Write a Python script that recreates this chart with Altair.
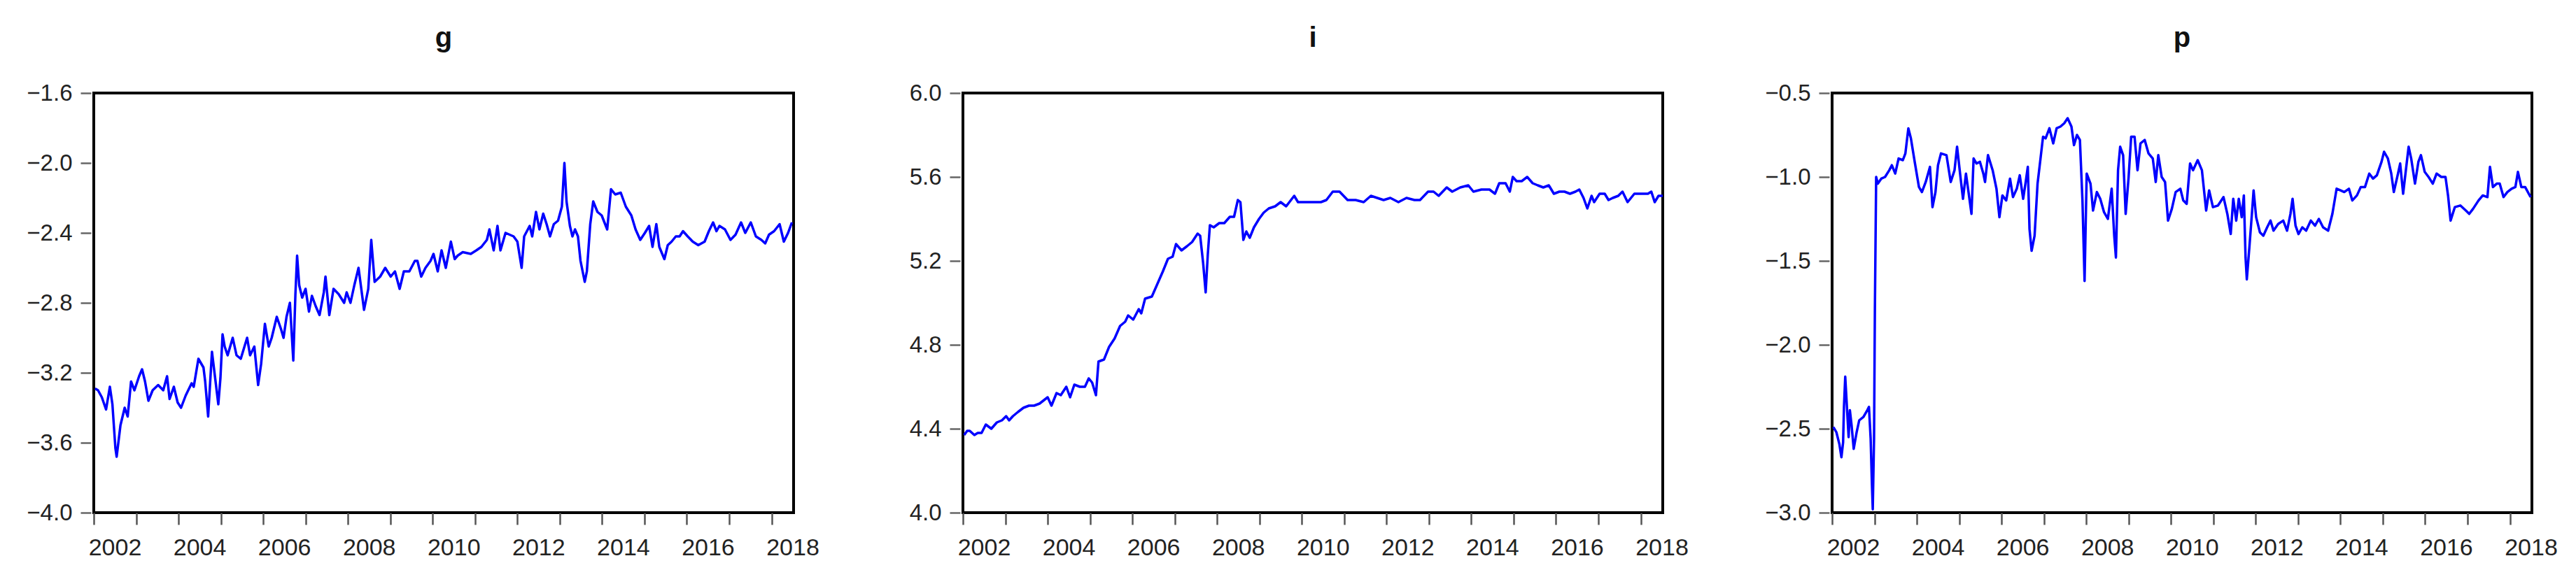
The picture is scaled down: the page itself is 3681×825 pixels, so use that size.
import altair as alt
import pandas as pd

# ---- series g ----
g_year = [2002.03, 2002.10, 2002.19, 2002.29, 2002.38, 2002.44, 2002.51, 2002.54, 2002.63, 2002.73,
          2002.80, 2002.88, 2002.96, 2003.07, 2003.14, 2003.21, 2003.29, 2003.39, 2003.52, 2003.64,
          2003.73, 2003.79, 2003.89, 2003.98, 2004.06, 2004.17, 2004.31, 2004.36, 2004.47, 2004.59,
          2004.63, 2004.70, 2004.79, 2004.85, 2004.94, 2004.99, 2005.04, 2005.09, 2005.16, 2005.28,
          2005.37, 2005.47, 2005.62, 2005.69, 2005.79, 2005.88, 2005.95, 2006.04, 2006.13, 2006.20,
          2006.32, 2006.42, 2006.48, 2006.55, 2006.63, 2006.71, 2006.76, 2006.80, 2006.85, 2006.92,
          2007.00, 2007.08, 2007.15, 2007.24, 2007.33, 2007.43, 2007.47, 2007.56, 2007.66, 2007.78,
          2007.91, 2007.97, 2008.06, 2008.15, 2008.25, 2008.38, 2008.48, 2008.55, 2008.63, 2008.76,
          2008.88, 2009.01, 2009.11, 2009.22, 2009.32, 2009.45, 2009.58, 2009.64, 2009.73, 2009.83,
          2009.95, 2010.02, 2010.12, 2010.21, 2010.31, 2010.43, 2010.52, 2010.59, 2010.71, 2010.90,
          2011.03, 2011.15, 2011.28, 2011.34, 2011.44, 2011.53, 2011.60, 2011.72, 2011.91, 2012.00,
          2012.10, 2012.16, 2012.29, 2012.35, 2012.44, 2012.52, 2012.61, 2012.69, 2012.77, 2012.86,
          2012.96, 2013.05, 2013.11, 2013.16, 2013.24, 2013.30, 2013.36, 2013.43, 2013.49, 2013.59,
          2013.64, 2013.72, 2013.79, 2013.89, 2013.99, 2014.12, 2014.21, 2014.31, 2014.44, 2014.56,
          2014.69, 2014.79, 2014.90, 2015.01, 2015.11, 2015.19, 2015.28, 2015.35, 2015.47, 2015.55,
          2015.64, 2015.74, 2015.83, 2015.91, 2016.02, 2016.14, 2016.27, 2016.42, 2016.52, 2016.62,
          2016.70, 2016.77, 2016.90, 2017.03, 2017.15, 2017.28, 2017.38, 2017.51, 2017.63, 2017.76,
          2017.85, 2017.94, 2018.06, 2018.19, 2018.29, 2018.39, 2018.48]
g_val = [-3.29, -3.30, -3.34, -3.41, -3.28, -3.38, -3.63, -3.68, -3.50, -3.40,
         -3.45, -3.25, -3.30, -3.22, -3.18, -3.25, -3.36, -3.30, -3.27, -3.30,
         -3.22, -3.35, -3.28, -3.37, -3.40, -3.33, -3.26, -3.28, -3.12, -3.17,
         -3.25, -3.45, -3.08, -3.20, -3.38, -3.23, -2.98, -3.05, -3.10, -3.00,
         -3.10, -3.12, -3.00, -3.10, -3.05, -3.27, -3.15, -2.92, -3.05, -3.00,
         -2.88, -2.95, -3.00, -2.88, -2.80, -3.13, -2.75, -2.53, -2.70, -2.77,
         -2.72, -2.85, -2.76, -2.82, -2.87, -2.74, -2.65, -2.87, -2.72, -2.75,
         -2.80, -2.74, -2.80, -2.70, -2.60, -2.84, -2.72, -2.44, -2.68, -2.65,
         -2.60, -2.65, -2.62, -2.72, -2.62, -2.62, -2.56, -2.56, -2.65, -2.60,
         -2.56, -2.52, -2.62, -2.50, -2.60, -2.45, -2.55, -2.53, -2.51, -2.52,
         -2.50, -2.48, -2.44, -2.38, -2.50, -2.36, -2.50, -2.40, -2.42, -2.45,
         -2.60, -2.42, -2.36, -2.42, -2.28, -2.38, -2.29, -2.35, -2.42, -2.35,
         -2.33, -2.25, -2.00, -2.22, -2.36, -2.42, -2.38, -2.42, -2.56, -2.68,
         -2.62, -2.35, -2.22, -2.28, -2.30, -2.38, -2.15, -2.18, -2.17, -2.25,
         -2.30, -2.38, -2.44, -2.40, -2.36, -2.48, -2.35, -2.48, -2.55, -2.47,
         -2.45, -2.42, -2.42, -2.39, -2.42, -2.45, -2.47, -2.45, -2.39, -2.34,
         -2.39, -2.36, -2.38, -2.44, -2.41, -2.34, -2.40, -2.34, -2.42, -2.44,
         -2.46, -2.41, -2.39, -2.35, -2.45, -2.40, -2.34]

# ---- series i ----
i_year = [2002.03, 2002.10, 2002.16, 2002.27, 2002.35, 2002.44, 2002.54, 2002.67, 2002.80, 2002.92,
          2003.02, 2003.09, 2003.18, 2003.30, 2003.43, 2003.56, 2003.68, 2003.81, 2004.00, 2004.09,
          2004.21, 2004.31, 2004.44, 2004.53, 2004.63, 2004.76, 2004.88, 2004.97, 2005.05, 2005.14,
          2005.20, 2005.33, 2005.45, 2005.58, 2005.71, 2005.83, 2005.90, 2006.02, 2006.15, 2006.21,
          2006.30, 2006.46, 2006.59, 2006.72, 2006.84, 2006.95, 2007.03, 2007.16, 2007.29, 2007.41,
          2007.54, 2007.60, 2007.67, 2007.73, 2007.78, 2007.83, 2007.92, 2008.05, 2008.17, 2008.30,
          2008.40, 2008.49, 2008.55, 2008.62, 2008.69, 2008.77, 2008.87, 2008.99, 2009.10, 2009.22,
          2009.37, 2009.50, 2009.63, 2009.82, 2009.91, 2010.07, 2010.26, 2010.45, 2010.58, 2010.73,
          2010.89, 2011.08, 2011.27, 2011.46, 2011.63, 2011.78, 2011.93, 2012.09, 2012.28, 2012.47,
          2012.66, 2012.79, 2012.98, 2013.11, 2013.23, 2013.42, 2013.55, 2013.74, 2013.93, 2014.05,
          2014.24, 2014.43, 2014.56, 2014.66, 2014.81, 2014.91, 2014.98, 2015.07, 2015.19, 2015.32,
          2015.45, 2015.57, 2015.70, 2015.83, 2015.95, 2016.08, 2016.20, 2016.33, 2016.46, 2016.55,
          2016.65, 2016.74, 2016.84, 2016.90, 2017.03, 2017.15, 2017.24, 2017.34, 2017.47, 2017.57,
          2017.69, 2017.85, 2017.98, 2018.17, 2018.25, 2018.33, 2018.42, 2018.52]
i_val = [4.37, 4.39, 4.39, 4.37, 4.38, 4.38, 4.42, 4.40, 4.43, 4.44,
         4.46, 4.44, 4.46, 4.48, 4.50, 4.51, 4.51, 4.52, 4.55, 4.51,
         4.57, 4.56, 4.60, 4.55, 4.61, 4.60, 4.60, 4.64, 4.62, 4.56,
         4.72, 4.73, 4.79, 4.83, 4.89, 4.91, 4.94, 4.92, 4.97, 4.95,
         5.02, 5.03, 5.09, 5.15, 5.21, 5.22, 5.28, 5.25, 5.27, 5.29,
         5.33, 5.32, 5.19, 5.05, 5.23, 5.37, 5.36, 5.38, 5.38, 5.41,
         5.41, 5.49, 5.48, 5.30, 5.34, 5.31, 5.36, 5.40, 5.43, 5.45,
         5.46, 5.48, 5.46, 5.51, 5.48, 5.48, 5.48, 5.48, 5.49, 5.53,
         5.53, 5.49, 5.49, 5.48, 5.51, 5.50, 5.49, 5.50, 5.48, 5.50,
         5.49, 5.49, 5.53, 5.53, 5.51, 5.55, 5.53, 5.55, 5.56, 5.53,
         5.54, 5.54, 5.52, 5.57, 5.57, 5.53, 5.60, 5.58, 5.58, 5.60,
         5.57, 5.56, 5.55, 5.56, 5.52, 5.53, 5.53, 5.52, 5.53, 5.54,
         5.50, 5.45, 5.51, 5.48, 5.52, 5.52, 5.49, 5.50, 5.51, 5.53,
         5.48, 5.52, 5.52, 5.52, 5.53, 5.48, 5.51, 5.51]

# ---- series p ----
p_year = [2002.03, 2002.10, 2002.17, 2002.22, 2002.26, 2002.28, 2002.31, 2002.35, 2002.39, 2002.42,
          2002.46, 2002.51, 2002.58, 2002.64, 2002.74, 2002.83, 2002.87, 2002.91, 2002.94, 2002.96,
          2002.99, 2003.01, 2003.04, 2003.08, 2003.16, 2003.25, 2003.35, 2003.41, 2003.49, 2003.57,
          2003.67, 2003.73, 2003.80, 2003.86, 2003.95, 2004.05, 2004.12, 2004.21, 2004.31, 2004.37,
          2004.44, 2004.50, 2004.57, 2004.70, 2004.80, 2004.89, 2004.95, 2005.03, 2005.09, 2005.16,
          2005.22, 2005.29, 2005.34, 2005.41, 2005.49, 2005.57, 2005.61, 2005.68, 2005.79, 2005.88,
          2005.95, 2006.02, 2006.11, 2006.20, 2006.27, 2006.36, 2006.43, 2006.51, 2006.57, 2006.62,
          2006.66, 2006.71, 2006.78, 2006.85, 2006.92, 2006.98, 2007.04, 2007.13, 2007.22, 2007.30,
          2007.39, 2007.48, 2007.56, 2007.65, 2007.71, 2007.78, 2007.85, 2007.91, 2007.96, 2008.01,
          2008.10, 2008.16, 2008.25, 2008.33, 2008.42, 2008.51, 2008.60, 2008.66, 2008.70, 2008.75,
          2008.80, 2008.87, 2008.93, 2009.00, 2009.06, 2009.14, 2009.21, 2009.28, 2009.38, 2009.47,
          2009.57, 2009.64, 2009.70, 2009.78, 2009.86, 2009.93, 2010.02, 2010.11, 2010.22, 2010.29,
          2010.37, 2010.45, 2010.52, 2010.63, 2010.73, 2010.83, 2010.90, 2010.99, 2011.11, 2011.24,
          2011.33, 2011.41, 2011.47, 2011.54, 2011.60, 2011.67, 2011.72, 2011.76, 2011.79, 2011.85,
          2011.91, 2011.95, 2012.01, 2012.10, 2012.18, 2012.27, 2012.35, 2012.42, 2012.53, 2012.65,
          2012.74, 2012.82, 2012.87, 2012.94, 2013.01, 2013.10, 2013.19, 2013.30, 2013.40, 2013.49,
          2013.59, 2013.71, 2013.81, 2013.91, 2014.00, 2014.09, 2014.20, 2014.28, 2014.39, 2014.48,
          2014.58, 2014.68, 2014.77, 2014.86, 2014.97, 2015.03, 2015.12, 2015.20, 2015.26, 2015.35,
          2015.41, 2015.48, 2015.54, 2015.61, 2015.67, 2015.76, 2015.84, 2015.90, 2015.99, 2016.08,
          2016.18, 2016.27, 2016.38, 2016.48, 2016.54, 2016.60, 2016.70, 2016.83, 2016.96, 2017.04,
          2017.13, 2017.26, 2017.36, 2017.47, 2017.53, 2017.60, 2017.69, 2017.76, 2017.85, 2017.94,
          2018.04, 2018.13, 2018.19, 2018.27, 2018.36, 2018.49]
p_val = [-2.49, -2.52, -2.59, -2.67, -2.58, -2.37, -2.19, -2.37, -2.55, -2.39,
         -2.48, -2.62, -2.52, -2.45, -2.43, -2.39, -2.37, -2.56, -2.83, -2.98,
         -2.56, -1.79, -1.00, -1.04, -1.01, -1.00, -0.96, -0.93, -0.98, -0.89,
         -0.90, -0.86, -0.71, -0.77, -0.91, -1.06, -1.09, -1.03, -0.94, -1.18,
         -1.09, -0.93, -0.86, -0.87, -1.03, -0.96, -0.82, -1.00, -1.13, -0.98,
         -1.09, -1.22, -0.89, -0.92, -0.91, -0.98, -1.03, -0.87, -0.96, -1.07,
         -1.24, -1.11, -1.14, -1.01, -1.12, -1.07, -0.99, -1.13, -1.03, -0.94,
         -1.31, -1.44, -1.35, -1.04, -0.89, -0.76, -0.77, -0.71, -0.80, -0.71,
         -0.70, -0.68, -0.65, -0.70, -0.81, -0.75, -0.78, -1.14, -1.62, -0.98,
         -1.04, -1.20, -1.09, -1.13, -1.21, -1.25, -1.07, -1.35, -1.48, -0.96,
         -0.82, -0.87, -1.22, -1.00, -0.76, -0.76, -0.96, -0.80, -0.78, -0.86,
         -0.89, -1.03, -0.87, -1.00, -1.03, -1.26, -1.19, -1.09, -1.07, -1.14,
         -1.16, -0.92, -0.96, -0.90, -0.96, -1.20, -1.08, -1.18, -1.17, -1.12,
         -1.22, -1.34, -1.13, -1.26, -1.13, -1.24, -1.11, -1.48, -1.61, -1.42,
         -1.22, -1.08, -1.24, -1.33, -1.35, -1.30, -1.26, -1.32, -1.28, -1.26,
         -1.32, -1.22, -1.13, -1.29, -1.34, -1.30, -1.32, -1.26, -1.29, -1.25,
         -1.30, -1.32, -1.22, -1.07, -1.08, -1.09, -1.07, -1.14, -1.11, -1.06,
         -1.06, -0.98, -1.01, -0.99, -0.91, -0.85, -0.89, -0.98, -1.09, -0.99,
         -0.92, -1.10, -0.97, -0.82, -0.89, -1.04, -0.91, -0.87, -0.97, -1.00,
         -1.04, -0.98, -1.00, -1.00, -1.11, -1.26, -1.18, -1.17, -1.20, -1.22,
         -1.19, -1.14, -1.11, -1.12, -0.94, -1.06, -1.04, -1.04, -1.12, -1.09,
         -1.07, -1.06, -0.97, -1.06, -1.06, -1.12]

years = list(range(2002, 2019))
g_ticks = [-4.0, -3.6, -3.2, -2.8, -2.4, -2.0, -1.6]
i_ticks = [4.0, 4.4, 4.8, 5.2, 5.6, 6.0]
p_ticks = [-3.0, -2.5, -2.0, -1.5, -1.0, -0.5]

FONT = "Liberation Sans"


def panel(yr, vals, name, ticks):
    df = pd.DataFrame({"year": yr, "value": vals})
    return alt.Chart(
        df,
        title=alt.TitleParams(name, fontSize=40, font=FONT, fontWeight="bold",
                              color="#111111", anchor="middle", offset=42),
    ).mark_line(color="#0000FF", strokeWidth=3.5, strokeJoin="round", clip=True).encode(
        x=alt.X("year:Q",
                scale=alt.Scale(domain=[2002, 2018.52], nice=False, zero=False),
                axis=alt.Axis(values=years, format="d",
                              labelExpr="datum.value % 2 == 0 ? datum.label : ''",
                              labelOffset=30, labelFontSize=34, labelPadding=16,
                              tickSize=17, tickWidth=2.5, tickColor="#555555",
                              labelOverlap=False, labelFlush=False, labelBound=False),
                title=None),
        y=alt.Y("value:Q",
                scale=alt.Scale(domain=[ticks[0], ticks[-1]], nice=False, zero=False),
                axis=alt.Axis(values=ticks, format=".1f", labelFontSize=33,
                              labelPadding=12, tickSize=15, tickWidth=2.5,
                              tickColor="#666666", offset=4,
                              labelOverlap=False, labelFlush=False, labelBound=False),
                title=None),
    ).properties(width=1000, height=600)


chart = alt.hconcat(
    panel(g_year, g_val, "g", g_ticks),
    panel(i_year, i_val, "i", i_ticks),
    panel(p_year, p_val, "p", p_ticks),
    spacing=242,
    bounds="flush",
).properties(
    padding={"left": 27, "top": 25, "right": 5, "bottom": 5},
    background="white",
).configure_view(
    stroke="black", strokeWidth=4
).configure_axis(
    domain=False, grid=False, labelFont=FONT, labelColor="#222222"
)

chart.save("out.html", embed_options={"renderer": "svg", "actions": False})
